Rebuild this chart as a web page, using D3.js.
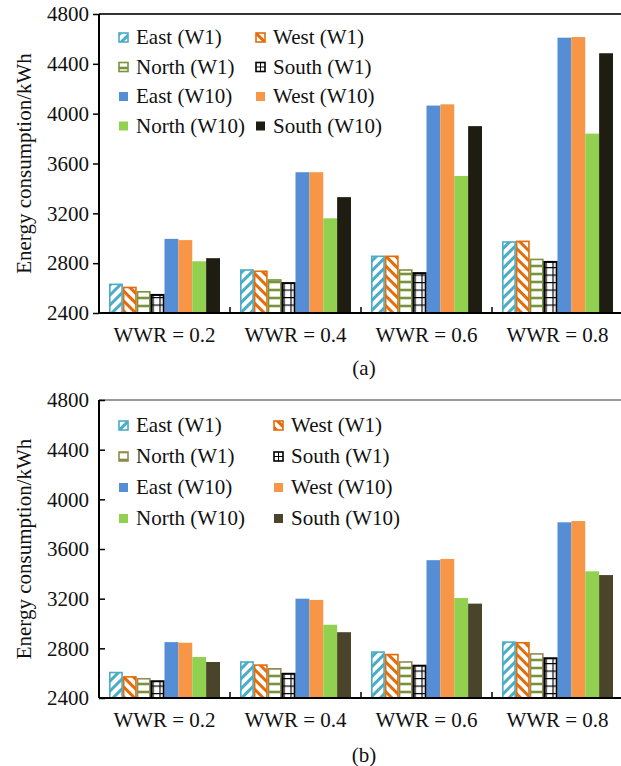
<!DOCTYPE html>
<html>
<head>
<meta charset="utf-8">
<script src="https://cdn.jsdelivr.net/npm/d3@7"></script>
<style>
  body { margin: 0; background: #fff; }
  text { font-family: "Liberation Serif", "Times New Roman", serif; fill: #111; }
</style>
</head>
<body>
<div id="chart"></div>
<script>
// categories and series
const categories = ["WWR = 0.2", "WWR = 0.4", "WWR = 0.6", "WWR = 0.8"];
const seriesNames = ["East (W1)", "West (W1)", "North (W1)", "South (W1)",
                     "East (W10)", "West (W10)", "North (W10)", "South (W10)"];
const yTicks = [2400, 2800, 3200, 3600, 4000, 4400, 4800];

// panel (a)
const aEastW1   = [2630, 2745, 2855, 2970];
const aWestW1   = [2605, 2735, 2855, 2975];
const aNorthW1  = [2570, 2665, 2745, 2830];
const aSouthW1  = [2545, 2640, 2720, 2810];
const aEastW10  = [2995, 3530, 4065, 4610];
const aWestW10  = [2985, 3530, 4075, 4615];
const aNorthW10 = [2815, 3160, 3500, 3840];
const aSouthW10 = [2840, 3330, 3900, 4485];

// panel (b)
const bEastW1   = [2605, 2690, 2770, 2850];
const bWestW1   = [2570, 2665, 2750, 2845];
const bNorthW1  = [2555, 2635, 2690, 2755];
const bSouthW1  = [2535, 2595, 2660, 2720];
const bEastW10  = [2850, 3200, 3510, 3815];
const bWestW10  = [2845, 3190, 3520, 3825];
const bNorthW10 = [2730, 2990, 3205, 3420];
const bSouthW10 = [2690, 2930, 3160, 3390];

const width = 621, height = 766;
const svg = d3.select("#chart").append("svg")
  .attr("width", width).attr("height", height);
const defs = svg.append("defs");

function linePattern(id, color, angle, gap, sw) {
  const p = defs.append("pattern").attr("id", id)
    .attr("patternUnits", "userSpaceOnUse")
    .attr("width", gap).attr("height", gap)
    .attr("patternTransform", `rotate(${angle})`);
  p.append("rect").attr("width", gap).attr("height", gap).attr("fill", "#fff");
  p.append("line").attr("x1", gap / 2).attr("x2", gap / 2)
    .attr("y1", 0).attr("y2", gap)
    .attr("stroke", color).attr("stroke-width", sw);
}
linePattern("hEast", "#4BACC6", 45, 7, 3);
linePattern("hWest", "#E46C0A", -45, 7, 3);
linePattern("hNorth", "#77933C", 90, 8, 2.6);

function drawPanel(opt) {
  const margin = { left: 99, top: opt.top };
  const plotW = 623 - margin.left;
  const plotH = opt.plotH;
  const g = svg.append("g").attr("transform", `translate(${margin.left},${margin.top})`);

  const x = d3.scaleBand().domain(categories).range([0, plotW]);
  const xs = d3.scaleBand().domain(seriesNames).range([10, x.bandwidth() - 10]);
  const y = d3.scaleLinear().domain([2400, 4800]).range([plotH, 0]);

  const data = opt.series;
  const colors = opt.colors;
  const fills = opt.fills;

  // top frame line
  g.append("line").attr("x1", 0).attr("x2", plotW).attr("y1", 0).attr("y2", 0)
    .attr("stroke", opt.frame).attr("stroke-width", 2);

  // bars
  seriesNames.forEach((s, si) => {
    data[si].forEach((v, ci) => {
      const bx = x(categories[ci]) + xs(s);
      const by = y(v);
      const bw = xs.bandwidth();
      const bh = plotH - by;
      let fill = fills[si];
      if (si === 3) {
        // grid pattern anchored to the bar
        const pid = `grid${opt.id}${ci}`;
        const p = defs.append("pattern").attr("id", pid)
          .attr("patternUnits", "userSpaceOnUse")
          .attr("x", margin.left + bx).attr("y", margin.top + plotH)
          .attr("width", bw / 2).attr("height", 7.5);
        p.append("rect").attr("width", bw / 2).attr("height", 7.5).attr("fill", "#fff");
        p.append("path").attr("d", `M0,0V7.5M0,0H${bw / 2}`)
          .attr("stroke", "#000").attr("stroke-width", 2.4).attr("fill", "none");
        fill = `url(#${pid})`;
      }
      g.append("rect")
        .attr("x", bx + (si < 4 ? 0.8 : 0)).attr("y", by)
        .attr("width", bw - (si < 4 ? 1.6 : 0)).attr("height", bh)
        .attr("fill", fill)
        .attr("stroke", si < 4 ? colors[si] : "none")
        .attr("stroke-width", si === 3 ? 2 : 1.6);
    });
  });

  // y axis
  const ya = g.append("g")
    .call(d3.axisLeft(y).tickValues(yTicks).tickFormat(d3.format("d"))
      .tickSize(opt.tickIn ? -6 : 6).tickPadding(opt.tickIn ? 10 : 4));
  ya.select(".domain").attr("stroke", "#000").attr("stroke-width", 2)
    .attr("d", `M0,0V${plotH}`);
  ya.selectAll(".tick line").attr("stroke", "#000").attr("stroke-width", 1.5);
  ya.selectAll(".tick text").style("font-size", "21px")
    .style("font-family", "Liberation Serif").attr("fill", "#111");

  // x axis
  const xa = g.append("g").attr("transform", `translate(0,${plotH})`)
    .call(d3.axisBottom(x).tickSize(0).tickPadding(14));
  xa.select(".domain").attr("stroke", "#000").attr("stroke-width", 2)
    .attr("d", `M0,0H${plotW}`);
  xa.selectAll(".tick text").style("font-size", "21px")
    .style("font-family", "Liberation Serif").attr("fill", "#111");
  categories.slice(1).forEach(c => {
    xa.append("line").attr("x1", x(c)).attr("x2", x(c))
      .attr("y1", 0).attr("y2", -6).attr("stroke", "#000").attr("stroke-width", 1.5);
  });

  // y title
  svg.append("text")
    .attr("transform", `translate(24,${margin.top + plotH / 2}) rotate(-90)`)
    .attr("text-anchor", "middle").attr("dy", "0.35em")
    .style("font-size", "21px").text("Energy consumption/kWh");

  // panel label
  svg.append("text").attr("x", 364).attr("y", opt.labelY)
    .attr("text-anchor", "middle").style("font-size", "21px").text(opt.label);

  // legend
  const lg = svg.append("g");
  seriesNames.forEach((s, si) => {
    const col = si % 2, row = Math.floor(si / 2);
    const lx = opt.legX[col];
    const ly = opt.legY0 + row * opt.legDy;
    let fill = fills[si];
    if (si === 3) {
      const pid = `lgrid${opt.id}`;
      const p = defs.append("pattern").attr("id", pid)
        .attr("patternUnits", "userSpaceOnUse")
        .attr("x", lx).attr("y", ly - 5).attr("width", 5).attr("height", 5);
      p.append("rect").attr("width", 5).attr("height", 5).attr("fill", "#fff");
      p.append("path").attr("d", "M0,0V5M0,0H5")
        .attr("stroke", "#000").attr("stroke-width", 2).attr("fill", "none");
      fill = `url(#${pid})`;
    }
    lg.append("rect").attr("x", lx + 1).attr("y", ly - 4)
      .attr("width", 9).attr("height", 9)
      .attr("fill", fill)
      .attr("stroke", si < 4 ? colors[si] : "none").attr("stroke-width", 1.6);
    lg.append("text").attr("x", lx + 18).attr("y", ly + 7)
      .style("font-size", "21px").text(s);
  });
}

drawPanel({
  id: "a", top: 14, plotH: 299, frame: "#333", tickIn: false,
  series: [aEastW1, aWestW1, aNorthW1, aSouthW1, aEastW10, aWestW10, aNorthW10, aSouthW10],
  colors: ["#4BACC6", "#E46C0A", "#77933C", "#000", "#558ED5", "#F79646", "#92D050", "#1F1D12"],
  fills: ["url(#hEast)", "url(#hWest)", "url(#hNorth)", null, "#558ED5", "#F79646", "#92D050", "#1F1D12"],
  label: "(a)", labelY: 375,
  legX: [118, 255], legY0: 37, legDy: 29.5
});

drawPanel({
  id: "b", top: 400, plotH: 298, frame: "#999", tickIn: true,
  series: [bEastW1, bWestW1, bNorthW1, bSouthW1, bEastW10, bWestW10, bNorthW10, bSouthW10],
  colors: ["#4BACC6", "#E46C0A", "#948A54", "#000", "#558ED5", "#F79646", "#92D050", "#4A442A"],
  fills: ["url(#hEast)", "url(#hWest)", "url(#hNorth)", null, "#558ED5", "#F79646", "#92D050", "#4A442A"],
  label: "(b)", labelY: 762,
  legX: [118, 273], legY0: 425, legDy: 31
});
</script>
</body>
</html>
